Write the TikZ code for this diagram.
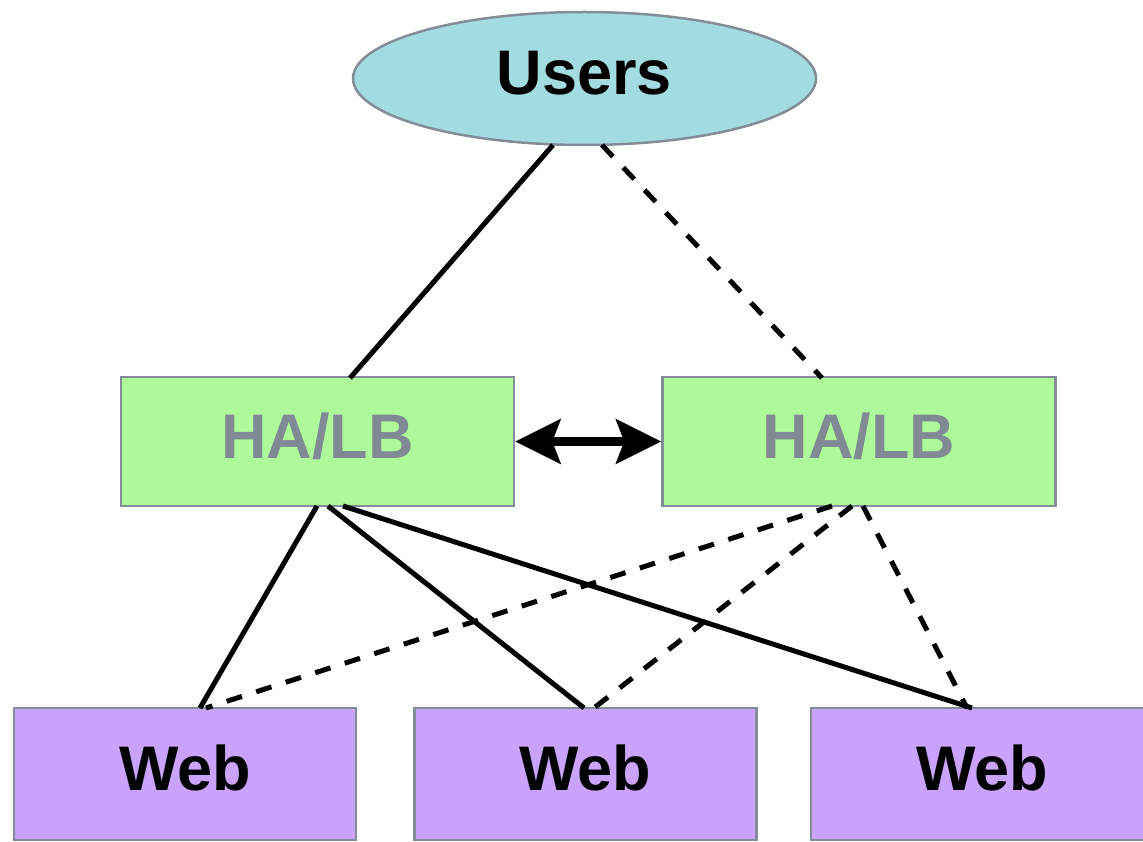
\documentclass[tikz,border=0pt]{standalone}
\usepackage{fontspec}
\setmainfont{Liberation Sans}
\usetikzlibrary{shapes.geometric,arrows.meta}
\definecolor{usersfill}{HTML}{A3DCE0}
\definecolor{lbfill}{HTML}{AEFA9B}
\definecolor{webfill}{HTML}{C9A3FD}
\definecolor{bordergray}{HTML}{838D98}
\definecolor{lbtext}{HTML}{7F8A94}
\tikzset{
  basebox/.style={draw=bordergray, line width=2.5pt, inner sep=0pt,
    font=\fontsize{63}{63}\selectfont\bfseries, text height=45pt, text depth=12pt},
  usersnode/.style={basebox, ellipse, fill=usersfill, minimum width=463pt, minimum height=133pt},
  lbnode/.style={basebox, rectangle, fill=lbfill, text=lbtext, minimum width=393pt, minimum height=129pt},
  webnode/.style={basebox, rectangle, fill=webfill, minimum width=342pt, minimum height=132pt},
  link/.style={line width=5pt, black},
  backup/.style={line width=5pt, black, dash pattern=on 16pt off 15pt},
  sync/.style={line width=9pt, {Stealth[length=45pt,width=44pt,inset=8pt]}-{Stealth[length=45pt,width=44pt,inset=8pt]}}
}
\begin{document}
\begin{tikzpicture}[x=1pt,y=-1pt]
\useasboundingbox (0,0) rectangle (1143,842);
\clip (0,0) rectangle (1143,842);
\coordinate (uL) at (553,145);
\coordinate (uR) at (602,145);
\coordinate (lT) at (350,378);
\coordinate (rT) at (822,378);
\coordinate (lB1) at (317,506);
\coordinate (lB2) at (328,506);
\coordinate (lB3) at (343,506);
\coordinate (rB1) at (832,506);
\coordinate (rB2) at (852,506);
\coordinate (rB3) at (863,506);
\coordinate (w1a) at (200,708);
\coordinate (w1b) at (206,708);
\coordinate (w2a) at (584,708);
\coordinate (w2b) at (594,708);
\coordinate (w3a) at (972,708);
\coordinate (w3b) at (967,708);

\node[usersnode] (U) at (584.5,78.5) {Users};
\node[lbnode] (L) at (317.5,441.5) {HA/LB};
\node[lbnode] (R) at (859,441.5) {HA/LB};
\node[webnode] (W1) at (185,774) {Web};
\node[webnode] (W2) at (585.5,774) {Web};
\node[webnode] (W3) at (982,774) {Web};

\draw[link] (uL) -- (lT);
\draw[backup] (uR) -- (rT);
\draw[link] (lB1) -- (w1a);
\draw[link] (lB2) -- (w2a);
\draw[link] (lB3) -- (w3a);
\draw[backup] (rB1) -- (w1b);
\draw[backup] (rB2) -- (w2b);
\draw[backup] (rB3) -- (w3b);
\draw[sync] (L.east) -- (R.west);
\end{tikzpicture}
\end{document}
